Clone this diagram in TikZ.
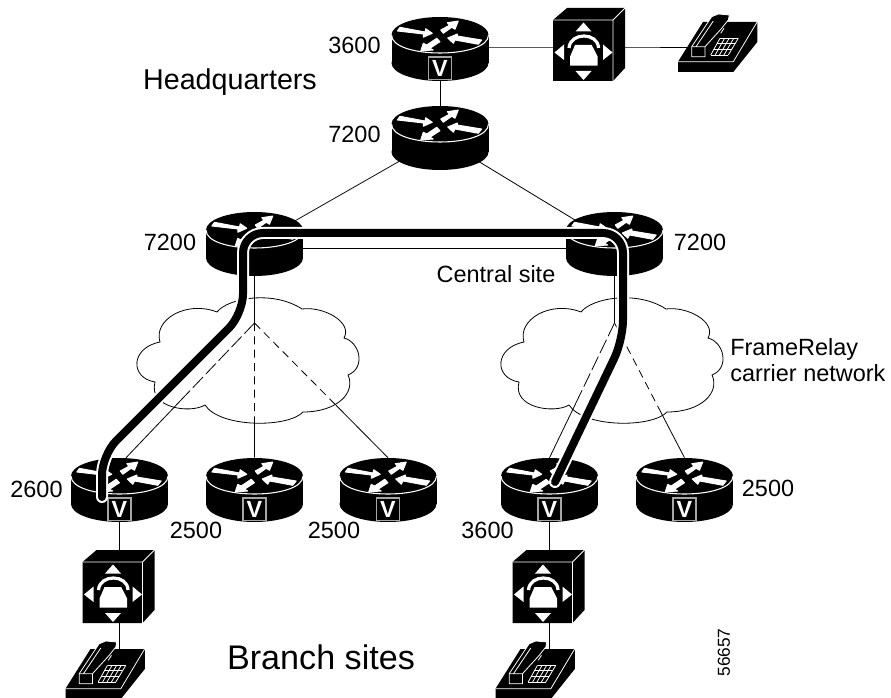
\documentclass[tikz,border=0pt]{standalone}
\usepackage{fontspec}
\setmainfont{Liberation Sans}
\usetikzlibrary{calc,positioning,arrows.meta}
\tikzset{
    device/.style={minimum width=72.75pt,minimum height=48pt,inner sep=0pt},
    spot/.style={minimum size=1pt,inner sep=0pt},
    link/.style={line width=.6pt},
    longdash/.style={link,dash pattern=on 11pt off 3pt},
    shortdash/.style={link,dash pattern=on 6pt off 4pt},
    lab/.style={font=\fontsize{17.6}{20}\selectfont},
    routerarrow/.style={fill=white,draw=white,line width=.7pt,line join=round},
    routeline/.style={line cap=round,line join=round,rounded corners=15pt},
    cloud/.pic={
        \draw[link] (-31,-48) .. controls (-20,-62) and (25,-70) .. (54,-51)
            .. controls (75,-54) and (105,-38) .. (96,-22)
            .. controls (112,-18) and (118,8) .. (100,15)
            .. controls (108,32) and (90,52) .. (55,52)
            .. controls (40,68) and (-28,68) .. (-43,45)
            .. controls (-58,54) and (-100,48) .. (-93,22)
            .. controls (-118,18) and (-118,-12) .. (-88,-18)
            .. controls (-95,-40) and (-62,-60) .. (-31,-48) -- cycle;
    },
    router/.pic={
        \begin{scope}[shift={(0,-14)}]
            \fill (-48.5,0) rectangle (48.5,28);
            \fill (0,28) ellipse [x radius=48.5,y radius=18];
            \fill (0,0) ellipse [x radius=48.5,y radius=18];
            \draw[white,line width=.8pt] (-48.5,0) .. controls (-48.5,24) and (48.5,24) .. (48.5,0);
            \draw[routerarrow] (-40,-7.7) -- (-15,-3) -- (-14.3,-6.3) -- (-7.7,-1.7) -- (-16.7,2.3) -- (-16.7,-1) -- (-42.7,-4) -- cycle;
            \draw[routerarrow] (.7,-5) -- (9.3,-9.7) -- (7.3,-12.3) -- (18.3,-14) -- (15,-5.7) -- (11.7,-7.7) -- (3.3,-1.7) -- cycle;
            \draw[routerarrow] (7.7,3) -- (17.3,-1) -- (17.3,1) -- (41.7,5) -- (38.3,9.3) -- (15,5) -- (13.3,8.3) -- cycle;
            \draw[routerarrow] (-19.3,16) -- (-16.7,8.3) -- (-13.3,10) -- (-3.3,3.3) -- (0,6.7) -- (-10,13.3) -- (-6.7,15) -- cycle;
        \end{scope}
    },
    vtag/.pic={
        \begin{scope}[shift={(0,-14)}]
            \draw[fill=black,draw=black!35,line width=.8pt] (-11.5,22) rectangle (11.5,44.5);
            \node[white,inner sep=0pt,font=\bfseries\fontsize{17.5}{18}\selectfont] (v) at (0,33.3) {V};
        \end{scope}
    },
    voice/.pic={
        \begin{scope}[shift={(-7,3.5)}]
            \fill (-30,-30.5) -- (-16,-42.5) -- (42,-42.5) -- (42,17.5) -- (30,30.5) -- (-30,30.5) -- cycle;
            \draw[white,line width=.7pt] (-30,-30.5) -- (30,-30.5) -- (30,30.5) (30,-30.5) -- (42,-42.5);
            \fill[white] (-7.5,-19) -- (8.5,-19) -- (.5,-28) -- cycle;
            \fill[white] (-7.5,20.5) -- (8.5,20.5) -- (.5,29.5) -- cycle;
            \fill[white] (-19,-6) -- (-19,9.5) -- (-28.5,2) -- cycle;
            \fill[white] (20,-6) -- (20,9.5) -- (29.5,2) -- cycle;
            \fill[white] (-8,-5.5) -- (8.7,-5.5) -- (14.7,6.2) -- (14.7,15.2) -- (-13,15.2) -- (-13,6.2) -- cycle;
            \draw[white,line width=2.4pt] (-14,-2.5) .. controls (-13,-18.5) and (15,-18.5) .. (15.5,-2.5);
        \end{scope}
    },
    phone/.pic={
        \fill (-54,14.7) -- (-29,-25) -- (25.3,-25) -- (25.3,-5) -- (1.3,25) -- (-54,25) -- cycle;
        \draw[white,line width=.6pt] (-54,14.7) -- (1.3,14.7) -- (25.3,-25.3);
        \draw[fill=black,draw=white,line width=.6pt,line join=round] (-40.3,9.7) -- (-27,9.7) -- (-27,-.3) -- (-10.3,-18.7)
            -- (-3.7,-27) -- (-2.7,-32) -- (-13.7,-33) -- (-20.3,-30.3) -- (-40.3,-.3) -- cycle;
        \draw[white,line width=.6pt] (-40.3,-.3) -- (-27,-.3) (-36,-.3) -- (-18.7,-26) (-11.3,-13.7) -- (-8,-18.7);
        \foreach \i in {0,1,2,3}
            \draw[white,line width=.6pt] ($(-12,-8.7)!\i/3!(-21.3,8)$) -- ($(6.3,-8.7)!\i/3!(-3.7,8)$);
        \foreach \i in {0,1,2,3,4}
            \draw[white,line width=.6pt] ($(-12,-8.7)!\i/4!(6.3,-8.7)$) -- ($(-21.3,8)!\i/4!(-3.7,8)$);
    },
}

\begin{document}
\begin{tikzpicture}[x=.75pt,y=-.75pt]
		\useasboundingbox (0,0) rectangle (891,698);

		% routers
		\foreach \x/\y/\name in {440/49/rHq,440/138/rCore,254.5/244/rLeft,614.5/244/rRight,119.5/490/rBa,254.5/490/rBb,388/490/rBc,549.5/490/rBd,684.5/490/rBe}
		\node[device] (\name) at (\x,\y) {};
		\foreach \x/\y/\name in {590/47/voiceHq,119.5/589/voiceA,549.5/589/voiceD}
		\node[spot] (\name) at (\x,\y) {};
		\foreach \x/\y/\name in {732/47/phoneHq,119.5/674/phoneA,549.5/674/phoneD}
		\node[spot] (\name) at (\x,\y) {};
		\coordinate (apexL) at (254.5,323);
		\coordinate (apexR) at (614.5,323);

		\pic at (248,360) {cloud};
		\pic at (612,360) {cloud};

		% thin links
		\draw[link] (rHq.center |- voiceHq.center) -- (voiceHq.center) -- (phoneHq.center);
		\draw[link] (rHq.center) -- (rCore.center);
		\draw[link] (rCore.center) -- (rLeft.center);
		\draw[link] (rCore.center) -- (rRight.center);
		\draw[link] ([yshift=-3pt]rLeft.center) -- ([yshift=-3pt]rRight.center);
		\draw[link] (rBa.center) -- (voiceA.center) -- (phoneA.center);
		\draw[link] (rBd.center) -- (voiceD.center) -- (phoneD.center);

		% left cloud
		\draw[link] (rLeft.center) -- (apexL);
		\coordinate (endA) at ([xshift=4.9pt]rBa.north);
		\draw[longdash] (apexL) -- ($(apexL)!.52!(endA)$);
		\draw[link] ($(apexL)!.52!(endA)$) -- (endA);
		\draw[shortdash] (apexL) -- ($(apexL)!.72!(rBb.north)$);
		\draw[link] ($(apexL)!.72!(rBb.north)$) -- (rBb.north);
		\draw[shortdash] (apexL) -- ($(apexL)!.61!(rBc.north)$);
		\draw[link] ($(apexL)!.61!(rBc.north)$) -- (rBc.north);

		% right cloud
		\draw[link] (rRight.center) -- (apexR);
		\draw[longdash] (apexR) -- ($(apexR)!.55!(rBd.north)$);
		\draw[link] ($(apexR)!.55!(rBd.north)$) -- (rBd.north);
		\draw[shortdash] (apexR) -- ($(apexR)!.66!(rBe.north)$);
		\draw[link] ($(apexR)!.66!(rBe.north)$) -- (rBe.north);

		\foreach \name in {rHq,rCore,rLeft,rRight,rBa,rBb,rBc,rBd,rBe}
		\pic at (\name) {router};
		\foreach \name in {rHq,rBa,rBb,rBc,rBd,rBe}
		\pic (\name) at (\name) {vtag};
		\foreach \name in {voiceHq,voiceA,voiceD}
		\pic at (\name) {voice};
		\foreach \name in {phoneHq,phoneA,phoneD}
		\pic at (\name) {phone};

		% voice path
		\coordinate (pathA) at (102,497);
		\coordinate (pathB) at (102,455);
		\coordinate (pathC) at (243,314);
		\coordinate (pathD) at (243,233);
		\coordinate (pathE) at (623,233);
		\coordinate (pathF) at (623,340);
		\coordinate (pathG) at (555,482);
		\draw[routeline,white,line width=9pt] (pathA) -- (pathB) -- (pathC) -- (pathD) -- (pathE) -- (pathF) -- (pathG);
		\draw[routeline,line width=6pt] (pathA) -- (pathB) -- (pathC) -- (pathD) -- (pathE) -- (pathF) -- (pathG);

		% labels
		\node[lab] (lHq) at (354.5,45) {3600};
		\node[lab] (lCore) at (354.5,134) {7200};
		\node[lab] (lLeft) at (170,242) {7200};
		\node[lab] (lRight) at (700,242) {7200};
		\node[lab] (lBa) at (36.5,489) {2600};
		\node[lab] (lBb) at (196,530) {2500};
		\node[lab] (lBc) at (334,530) {2500};
		\node[lab] (lBd) at (487.5,530) {3600};
		\node[lab] (lBe) at (768,488) {2500};
		\node[font=\fontsize{21.5}{24}\selectfont] (hq) at (230,82) {Headquarters};
		\node[lab] (central) at (496,274) {Central site};
		\node[lab,align=left,anchor=west,inner sep=0pt] (carrier) at (730,360) {FrameRelay\\carrier network};
		\node[font=\fontsize{25.6}{28}\selectfont] (branch) at (321,657) {Branch sites};
		\node[rotate=90,font=\fontsize{13}{16}\selectfont] (figno) at (724,652.5) {56657};
	\end{tikzpicture}
\end{document}
